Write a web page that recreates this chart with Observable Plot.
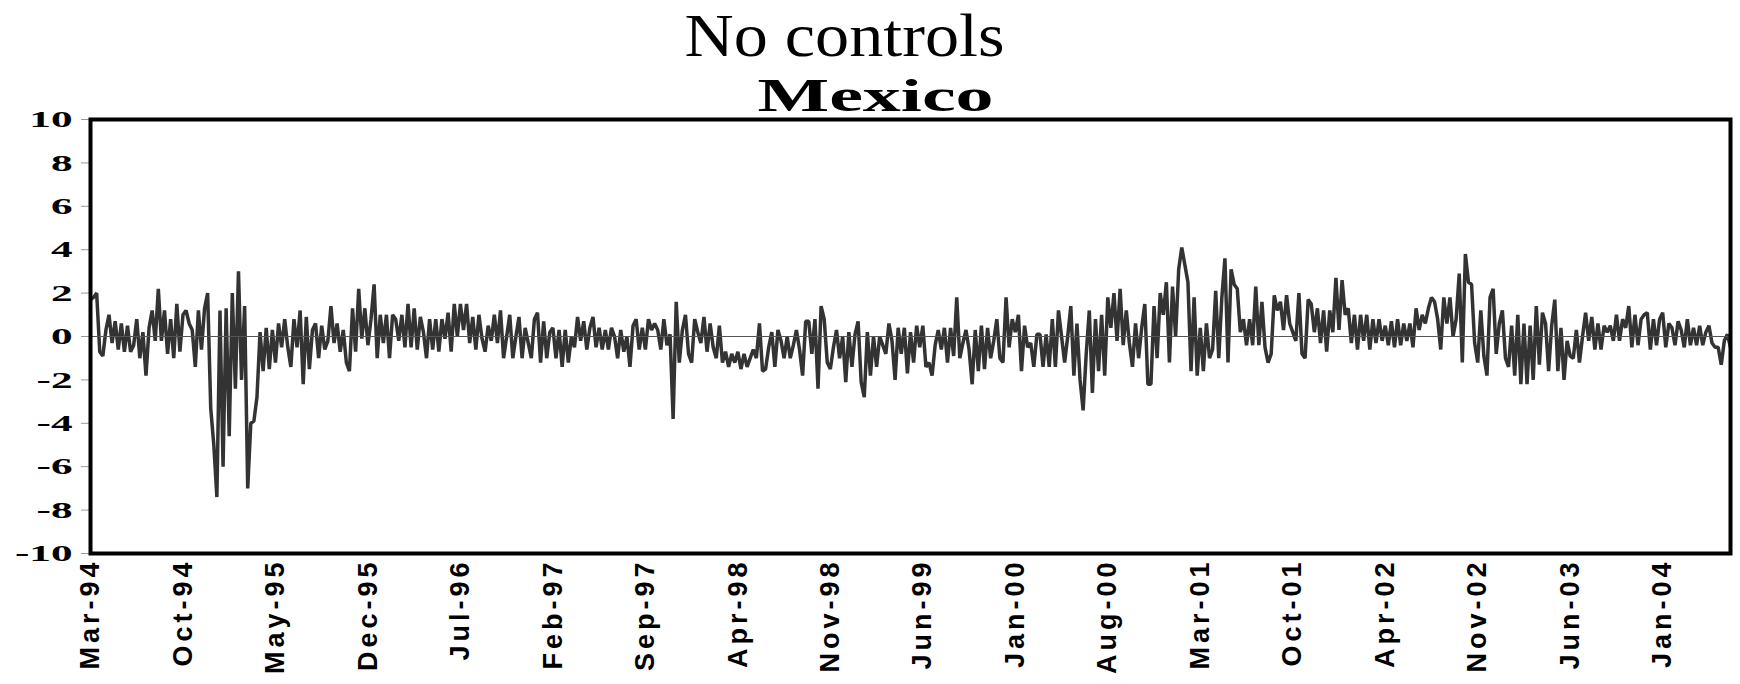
<!DOCTYPE html>
<html>
<head>
<meta charset="utf-8">
<script src="https://cdn.jsdelivr.net/npm/d3@7"></script>
<script src="https://cdn.jsdelivr.net/npm/@observablehq/plot@0.6"></script>
<style>
  body { margin: 0; background: #fff; }
  #wrap { position: relative; width: 1740px; height: 684px; overflow: hidden; background: #fff; }
  #chart { position: absolute; left: 0; top: 96px; z-index: 1; }
  .title1 { position: absolute; left: 0; top: 4px; width: 1690px; text-align: center; z-index: 2;
            font-family: "Liberation Serif", "Times New Roman", serif; font-size: 62px; line-height: 62px; color: #000; }
  .title1 span { display: inline-block; transform: scaleX(1.1); transform-origin: center; }
  .title2 { position: absolute; left: 0; top: 73px; width: 1752px; text-align: center; z-index: 2;
            font-family: "Liberation Serif", "Times New Roman", serif; font-size: 46px; font-weight: bold; line-height: 46px; color: #000; }
  .title2 span { display: inline-block; transform: scaleX(1.65); transform-origin: center; }
</style>
</head>
<body>
<div id="wrap">
  <div id="chart"></div>
  <div class="title1"><span>No controls</span></div>
  <div class="title2"><span>Mexico</span></div>
</div>
<script>
// Weekly series (Mar-94 .. early 2004)
const part1 = [1.7, 1.8, 2.0, -0.7, -0.9, 0.3, 1.0, -0.3, 0.7, -0.6,
  0.6, -0.7, 0.5, -0.7, -0.4, 0.8, -1.0, 0.2, -1.8, 0.4,
  1.2, -0.2, 2.2, -0.2, 1.2, -0.8, 0.8, -1.0, 1.5, -0.7,
  1.0, 1.2, 0.6, 0.3, -1.4, 1.2, -0.6, 1.3, 2.0, -3.3,
  -5.0, -7.4, 1.2, -6.0, 1.3, -4.6, 2.0, -2.4, 3.0, -2.0,
  1.4, -7.0, -4.0, -3.9, -2.8, 0.2, -1.6, 0.4, -1.5, 0.3,
  -1.2, 0.6, -0.5, 0.8, -0.5, -1.4, 0.8, -0.5, 1.2, -2.2,
  0.9, -1.5, 0.3, 0.6, -1.0, 0.5, -0.6];
const part2 = [-0.2, 1.4, -0.3, 0.6, -0.7, 0.3, -1.2, -1.6, 1.3, -0.7,
  2.2, -0.1, 1.3, -0.4, 0.8, 2.4, -1.0, 1.0, -0.3, 1.0,
  -1.0, 1.0, 0.8, -0.2, 1.0, -0.5, 1.5, -0.5, 1.3, -0.6,
  0.9, 0.2, -1.0, 0.8, -0.6, 0.8, -0.7, 0.8, -0.1, 1.1,
  -0.7, 1.5, 0.0, 1.5, 0.3, 1.5, -0.3, 0.9, -0.6, 1.0,
  -0.1, -0.7, 0.5, -0.2, 1.0, -0.3, 1.2, -1.0, 0.0, 1.0,
  -1.0, 0.0, 0.9, -1.0, 0.4, -0.3, -1.0, 0.8, 1.1, -1.2,
  0.7, -1.0, 0.2, 0.4, -1.0, 0.3];
const part3 = [-1.4, 0.3, -1.2, 0.0, -0.5, 0.9, -0.2, 0.7, -0.6, 0.4,
  0.9, -0.5, 0.4, -0.6, 0.3, -0.6, 0.4, 0.0, -1.0, 0.3,
  -0.7, 0.0, -1.4, 0.5, 0.8, -0.6, 0.4, -0.6, 0.8, 0.3,
  0.6, 0.3, -0.6, 0.8, -0.4, 0.1, -3.8, 1.6, -1.2, 0.3,
  1.0, -0.8, -1.2, 0.8, 0.2, -0.3, 0.9, -0.7, 0.6, -0.5,
  -1.0, 0.5, -1.2, -0.7, -1.4, -0.8, -1.2, -0.7, -1.5, -0.8,
  -1.4, -1.0, -0.6, -1.0, 0.6, -1.6, -1.5, -0.5, 0.2, -1.4,
  0.3, -0.2, -1.0, 0.0, -1.0, -0.4];
const part4 = [0.3, -0.6, -1.8, 0.7, 0.7, -0.8, 0.8, -2.4, 1.4, 0.8,
  -1.2, -1.5, -0.5, 0.3, -1.0, 0.0, -2.1, 0.2, -1.4, 0.1,
  0.7, -2.1, -2.8, 0.2, -1.8, 0.0, -1.4, 0.0, -0.4, -0.8,
  0.6, -0.2, -2.0, 0.4, -0.8, 0.4, -1.7, 0.2, -1.2, 0.5,
  -0.5, 0.5, -1.4, -1.2, -1.8, -0.4, 0.3, -0.6, 0.4, -1.2,
  0.4, -0.9, 1.8, -1.0, -0.3, 0.3, -0.6, -2.2, 0.3, -1.6,
  0.5, -1.5, 0.4, -1.0, -0.2, 0.8, -1.0, -1.2, 1.8, -0.5,
  0.8, 0.2, 1.0, -1.6, 0.5, -0.5];
const part5 = [-0.3, -1.4, 0.1, 0.1, -1.4, 0.1, -1.4, 0.8, -1.4, 1.2,
  0.0, -1.2, 0.0, 1.4, -1.8, 0.6, -2.0, -3.4, -0.8, 1.2,
  -2.6, 0.8, -1.6, 1.0, -1.8, 1.8, 0.4, 2.0, -0.2, 2.2,
  -0.4, 1.2, -0.3, -1.4, 0.6, -1.0, 0.4, 1.5, -2.2, -2.2,
  1.4, -1.0, 2.0, 1.0, 2.5, -1.2, 2.3, 0.0, 3.1, 4.1,
  3.3, 2.5, -1.6, 1.8, -1.8, 0.4, -1.6, 0.6, -1.0, -0.6,
  2.1, -1.0, 1.8, 3.6, -1.2, 3.1, 2.4, 2.2, 0.2, 0.8,
  -0.4, 0.8, -0.4, 2.3, -0.4, 1.6];
const part6 = [-0.5, -1.2, -0.8, 1.9, 1.2, 1.6, 0.3, 1.9, 0.6, 0.2,
  -0.2, 2.0, -0.8, -1.0, 1.7, 1.5, 0.2, 1.3, -0.3, 1.2,
  -0.7, 1.2, 0.2, 2.7, 0.3, 2.6, 1.0, 1.3, -0.3, 1.0,
  -0.6, 1.0, -0.2, 1.0, -0.6, 0.8, -0.3, 0.8, -0.2, 0.5,
  -0.4, 0.7, -0.5, 0.8, -0.4, 0.6, -0.2, 0.6, -0.5, 1.3,
  0.3, 1.0, 0.6, 1.3, 1.8, 1.6, 0.8, -0.6, 1.8, 0.6,
  1.8, 0.0, 0.8, 2.9, -1.2, 3.8, 2.5, 2.4, -0.3, -1.2,
  1.2, -0.9, -1.8, 1.8, 2.2, -0.8];
const part7 = [0.6, 1.2, -1.0, -1.4, 0.5, -1.8, 1.0, -2.2, 0.6, -2.2,
  0.5, -2.0, 1.4, -1.3, 1.1, 0.6, -1.6, 0.5, 1.7, -1.6,
  0.4, -2.0, -0.2, -0.9, -1.0, 0.3, -1.2, 0.0, 1.1, -0.2,
  0.9, -0.6, 0.6, -0.6, 0.5, 0.2, 0.5, -0.2, 1.0, -0.2,
  0.8, 0.4, 1.4, -0.5, 1.0, -0.4, 0.8, 1.0, 1.1, -0.6,
  0.8, -0.4, 0.8, 1.1, -0.5, 0.6, 0.4, -0.4, 0.7, 0.3,
  -0.5, 0.8, -0.4, 0.4, -0.4, 0.5, -0.4, 0.2, 0.5, -0.3,
  -0.5, -0.5, -1.3, -0.2, 0.1, -0.5];

const xTickLabels = ["Mar-94","Oct-94","May-95","Dec-95","Jul-96","Feb-97","Sep-97","Apr-98","Nov-98",
  "Jun-99","Jan-00","Aug-00","Mar-01","Oct-01","Apr-02","Nov-02","Jun-03","Jan-04"];
const xTickStep = 30; // one label every 30 weekly observations
const yTicks = [-10, -8, -6, -4, -2, 0, 2, 4, 6, 8, 10];
const yTickLabels = ["-10", "-8", "-6", "-4", "-2", "0", "2", "4", "6", "8", "10"];

const values = [...part1, ...part2, ...part3, ...part4, ...part5, ...part6, ...part7];
const data = values.map((v, i) => ({i, v}));
const xTicks = xTickLabels.map((_, k) => k * xTickStep);

const chart = Plot.plot({
  width: 1740,
  height: 588,
  marginTop: 23,
  marginBottom: 131,
  marginLeft: 90,
  marginRight: 10,
  style: {background: "transparent", overflow: "visible"},
  x: {domain: [0, values.length - 1]},
  y: {domain: [-10, 10]},
  marks: [
    Plot.axisY({ticks: yTicks, tickFormat: d => yTickLabels[yTicks.indexOf(d)], tickSize: 9, tickPadding: 9,
      stroke: "#999", fontSize: 24, fontFamily: "Liberation Serif", fontWeight: "bold", fill: "#000", label: null}),
    Plot.axisX({ticks: xTicks, tickFormat: d => xTickLabels[d / xTickStep], tickRotate: -90, tickSize: 0, tickPadding: 5,
      fontSize: 27, fontFamily: "Liberation Sans", fontWeight: "bold", fill: "#000", label: null}),
    Plot.lineY(data, {x: "i", y: "v", stroke: "#333", strokeWidth: 3.5, strokeLinejoin: "bevel", strokeLinecap: "butt"}),
    Plot.ruleY([0], {stroke: "#555", strokeWidth: 1}),
    Plot.frame({stroke: "#000", strokeWidth: 4})
  ]
});
document.getElementById("chart").appendChild(chart);

// stretch the y tick labels horizontally as in the original rendering
chart.querySelectorAll('g[aria-label="y-axis tick label"] text').forEach(t => {
  const tr = t.getAttribute("transform");
  if (tr) t.setAttribute("transform", tr + " scale(1.8,1)");
  else {
    const x = +t.getAttribute("x") || 0, y = +t.getAttribute("y") || 0;
    t.setAttribute("transform", `translate(${x},${y}) scale(1.8,1) translate(${-x},${-y})`);
  }
});
chart.querySelectorAll('g[aria-label="x-axis tick label"] text').forEach(t => {
  t.style.letterSpacing = "4px";
});
</script>
</body>
</html>
